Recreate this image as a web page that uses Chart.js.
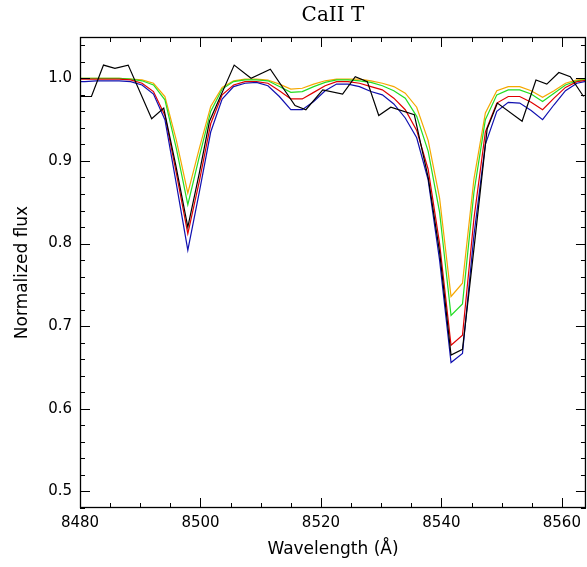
<!DOCTYPE html>
<html>
<head>
<meta charset="utf-8">
<script src="https://cdn.jsdelivr.net/npm/chart.js@4"></script>
<style>
  html, body { margin: 0; padding: 0; background: #fff; }
  #wrap { width: 587px; height: 567px; }
</style>
</head>
<body>
<div id="wrap"><canvas id="cat"></canvas></div>
<script>
// model spectra grid (Angstrom)
const wave = [8478.9, 8480.8, 8482.7, 8484.6, 8486.5, 8488.4, 8490.3, 8492.2, 8494.1, 8496.0,
  8497.9, 8499.8, 8501.7, 8503.6, 8505.5, 8507.4, 8509.3, 8511.2, 8513.1, 8515.0,
  8516.9, 8518.8, 8520.7, 8522.6, 8524.5, 8526.4, 8528.3, 8530.2, 8532.1, 8534.0,
  8535.9, 8537.8, 8539.7, 8541.6, 8543.5, 8545.4, 8547.3, 8549.2, 8551.1, 8553.0,
  8554.9, 8556.8, 8558.7, 8560.6, 8562.5, 8564.4];

const fluxOrange = [1.000, 1.000, 1.000, 1.000, 1.000, 0.999, 0.998, 0.994, 0.978, 0.925,
  0.861, 0.915, 0.966, 0.989, 0.997, 0.999, 0.999, 0.998, 0.993, 0.987,
  0.988, 0.993, 0.997, 0.999, 0.999, 0.999, 0.997, 0.994, 0.990, 0.982,
  0.965, 0.925, 0.855, 0.736, 0.752, 0.878, 0.958, 0.985, 0.990, 0.990,
  0.985, 0.977, 0.985, 0.994, 0.998, 0.999];
const fluxGreen = [1.000, 1.000, 1.000, 1.000, 1.000, 0.999, 0.997, 0.992, 0.974, 0.915,
  0.847, 0.905, 0.960, 0.987, 0.996, 0.998, 0.998, 0.997, 0.990, 0.983,
  0.984, 0.990, 0.995, 0.998, 0.998, 0.997, 0.995, 0.991, 0.985, 0.976,
  0.954, 0.912, 0.838, 0.713, 0.727, 0.862, 0.950, 0.980, 0.986, 0.986,
  0.981, 0.972, 0.982, 0.992, 0.997, 0.999];
const fluxRed = [0.999, 0.999, 0.999, 0.999, 0.999, 0.998, 0.994, 0.984, 0.955, 0.885,
  0.812, 0.875, 0.945, 0.980, 0.992, 0.996, 0.996, 0.994, 0.985, 0.975,
  0.975, 0.983, 0.991, 0.996, 0.996, 0.994, 0.990, 0.986, 0.976, 0.962,
  0.937, 0.890, 0.800, 0.677, 0.689, 0.830, 0.935, 0.970, 0.978, 0.978,
  0.971, 0.962, 0.976, 0.989, 0.996, 0.998];
const fluxBlue = [0.996, 0.996, 0.997, 0.997, 0.997, 0.996, 0.992, 0.981, 0.950, 0.872,
  0.792, 0.862, 0.935, 0.975, 0.990, 0.994, 0.995, 0.991, 0.978, 0.962,
  0.962, 0.972, 0.985, 0.993, 0.993, 0.990, 0.984, 0.980, 0.969, 0.952,
  0.928, 0.877, 0.780, 0.656, 0.667, 0.810, 0.920, 0.960, 0.971, 0.970,
  0.961, 0.950, 0.968, 0.985, 0.994, 0.997];

// observed spectrum
const obsWave = [8480.0, 8481.9, 8483.9, 8485.8, 8488.0, 8491.9, 8493.9, 8495.9, 8497.9, 8499.8,
  8501.5, 8505.6, 8508.4, 8511.6, 8515.7, 8517.5, 8520.3, 8523.6, 8525.7, 8527.7,
  8529.6, 8531.6, 8535.5, 8537.8, 8539.7, 8541.6, 8543.5, 8545.5, 8547.6, 8549.3,
  8553.4, 8555.7, 8557.5, 8559.5, 8561.4, 8563.6];
const obsFlux = [0.978, 0.978, 1.016, 1.012, 1.016, 0.951, 0.964, 0.895, 0.820, 0.885,
  0.948, 1.016, 1.000, 1.011, 0.967, 0.962, 0.986, 0.981, 1.002, 0.996,
  0.955, 0.965, 0.956, 0.880, 0.790, 0.665, 0.672, 0.800, 0.939, 0.970,
  0.948, 0.998, 0.993, 1.007, 1.002, 0.978];

const xMajor = [8480, 8500, 8520, 8540, 8560];
const yMajor = [0.5, 0.6, 0.7, 0.8, 0.9, 1.0];

function pts(xs, ys) {
  return xs.map((v, i) => ({ x: v, y: ys[i] }));
}

function line(label, xs, ys, color) {
  return {
    label: label,
    data: pts(xs, ys),
    borderColor: color,
    backgroundColor: color,
    borderWidth: 1.2,
    pointRadius: 0,
    tension: 0,
  };
}

// IDL style box with inward ticks on all four sides
const frameTicks = {
  id: 'frameTicks',
  afterDatasetsDraw(chart) {
    const { ctx, chartArea: a, scales: { x, y } } = chart;
    ctx.save();
    ctx.strokeStyle = '#000';
    ctx.lineWidth = 1.3;
    ctx.strokeRect(a.left + 0.5, a.top + 0.5, a.right - a.left - 1, a.bottom - a.top - 1);
    ctx.lineWidth = 1;
    ctx.beginPath();
    for (let v = 8480; v <= 8564; v += 5) {
      const px = Math.round(x.getPixelForValue(v)) + 0.5;
      const len = xMajor.includes(v) ? 10 : 5;
      ctx.moveTo(px, a.bottom); ctx.lineTo(px, a.bottom - len);
      ctx.moveTo(px, a.top); ctx.lineTo(px, a.top + len);
    }
    for (let k = 24; k <= 52; k++) {
      const v = k / 50;
      const py = Math.round(y.getPixelForValue(v)) + 0.5;
      const len = k % 5 === 0 ? 10 : 5;
      ctx.moveTo(a.left, py); ctx.lineTo(a.left + len, py);
      ctx.moveTo(a.right, py); ctx.lineTo(a.right - len, py);
    }
    ctx.stroke();
    ctx.restore();
  }
};

new Chart(document.getElementById('cat'), {
  type: 'line',
  data: {
    datasets: [
      line('Observed', obsWave, obsFlux, '#000000'),
      line('Model 1', wave, fluxBlue, '#1010b0'),
      line('Model 2', wave, fluxRed, '#e00000'),
      line('Model 3', wave, fluxGreen, '#22dd22'),
      line('Model 4', wave, fluxOrange, '#f5a800'),
    ],
  },
  options: {
    responsive: true,
    maintainAspectRatio: false,
    animation: false,
    layout: { padding: 0 },
    plugins: {
      legend: { display: false },
      tooltip: { enabled: false },
      title: {
        display: true,
        fullSize: false,
        text: 'CaII T',
        color: '#000',
        font: { family: 'DejaVu Serif', size: 20, weight: 'normal' },
        padding: { top: 4, bottom: 9 },
      },
    },
    scales: {
      x: {
        type: 'linear',
        min: 8480,
        max: 8564,
        afterFit: (s) => { s.height = 59; },
        afterBuildTicks: (s) => { s.ticks = xMajor.map(v => ({ value: v })); },
        grid: { display: false, drawTicks: false },
        border: { display: false },
        ticks: {
          color: '#000',
          padding: 6,
          maxRotation: 0,
          font: { family: 'DejaVu Sans', size: 15 },
          callback: (v) => String(v),
        },
        title: {
          display: true,
          text: 'Wavelength (Å)',
          color: '#000',
          font: { family: 'DejaVu Sans', size: 17 },
          padding: { top: 0, bottom: 7 },
        },
      },
      y: {
        min: 0.48,
        max: 1.05,
        afterFit: (s) => { s.width = 80; },
        afterBuildTicks: (s) => { s.ticks = yMajor.map(v => ({ value: v })); },
        grid: { display: false, drawTicks: false },
        border: { display: false },
        ticks: {
          color: '#000',
          padding: 8,
          font: { family: 'DejaVu Sans', size: 15 },
          callback: (v) => v.toFixed(1),
        },
        title: {
          display: true,
          text: 'Normalized flux',
          color: '#000',
          font: { family: 'DejaVu Sans', size: 17 },
          padding: { top: 12, bottom: 0 },
        },
      },
    },
  },
  plugins: [frameTicks],
});
</script>
</body>
</html>
